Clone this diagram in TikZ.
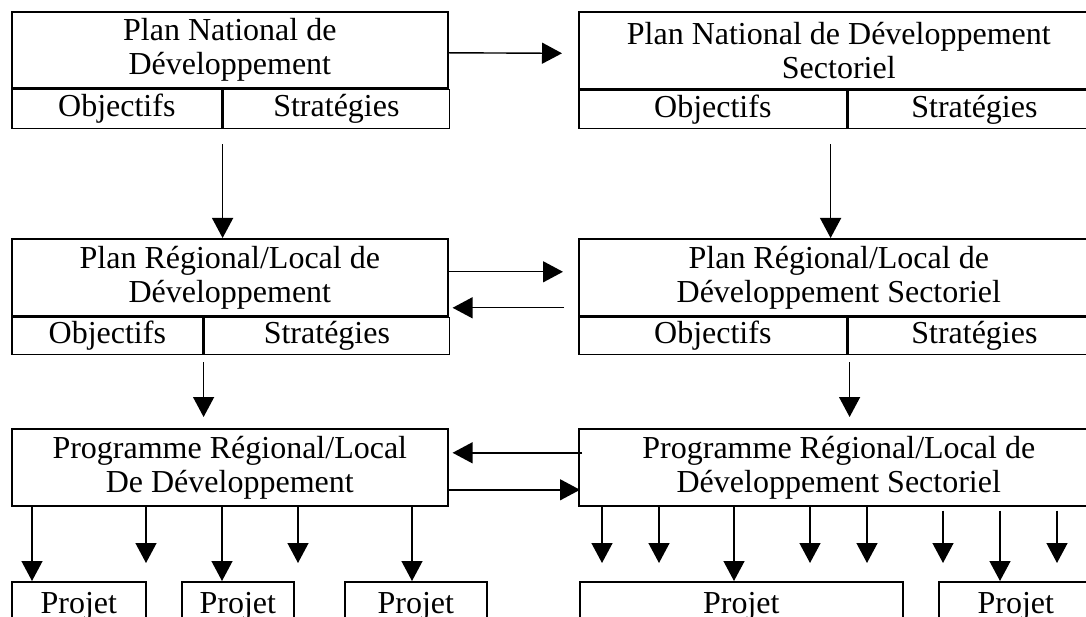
\documentclass[tikz,border=0pt]{standalone}
\usepackage{fontspec}
\setmainfont{Liberation Serif}
\usetikzlibrary{arrows.meta}

\tikzset{
  box/.style={draw,line width=1.6pt,inner sep=0pt,align=center,anchor=north west},
  proj/.style={box,minimum height=50pt},
  arr/.style={line width=1.4pt,-{Triangle[width=21pt,length=20pt]}}
}

\begin{document}
\begin{tikzpicture}[x=1pt,y=-1pt,font=\fontsize{32}{34}\selectfont]

\useasboundingbox (0,0) rectangle (1086,617);
\fill[white] (0,0) rectangle (1086,617);
\clip (0,0) rectangle (1086,617);

% national plans
\node[box,minimum width=436pt,minimum height=76pt] (pnd) at (11,11) {Plan National de\\Développement};
\node[box,minimum width=210pt,minimum height=39pt] (pnd-obj) at (pnd.south west) {Objectifs};
\node[box,minimum width=226pt,minimum height=39pt] (pnd-str) at (pnd-obj.north east) {Stratégies};

\node[box,minimum width=520pt,minimum height=77pt] (pnds) at (578,11) {Plan National de Développement\\Sectoriel};
\node[box,minimum width=268pt,minimum height=38pt] (pnds-obj) at (pnds.south west) {Objectifs};
\node[box,minimum width=252pt,minimum height=38pt] (pnds-str) at (pnds-obj.north east) {Stratégies};

% regional / local plans
\node[box,minimum width=436pt,minimum height=77pt] (prl) at (11,238) {Plan Régional/Local de\\Développement};
\node[box,minimum width=191pt,minimum height=37pt] (prl-obj) at (prl.south west) {Objectifs};
\node[box,minimum width=245pt,minimum height=37pt] (prl-str) at (prl-obj.north east) {Stratégies};

\node[box,minimum width=520pt,minimum height=77pt] (prls) at (578,238) {Plan Régional/Local de\\Développement Sectoriel};
\node[box,minimum width=268pt,minimum height=37pt] (prls-obj) at (prls.south west) {Objectifs};
\node[box,minimum width=252pt,minimum height=37pt] (prls-str) at (prls-obj.north east) {Stratégies};

% programmes
\node[box,minimum width=436pt,minimum height=77pt] (prg) at (11,428) {Programme Régional/Local\\De Développement};
\node[box,minimum width=520pt,minimum height=77pt] (prgs) at (578,428) {Programme Régional/Local de\\Développement Sectoriel};

% projects
\node[proj,minimum width=134pt] (pj1) at (11,581) {Projet};
\node[proj,minimum width=112pt] (pj2) at (181,581) {Projet};
\node[proj,minimum width=142pt] (pj3) at (344,581) {Projet};
\node[proj,minimum width=323pt] (pj4) at (579,581) {Projet};
\node[proj,minimum width=154pt] (pj5) at (938,581) {Projet};

% horizontal links
\draw[arr] ([yshift=-3pt]pnd.east) -- ([xshift=-16pt,yshift=-3pt]pnds.west);
\draw[arr] ([yshift=5.5pt]prl.east) -- ([xshift=-15pt,yshift=5.5pt]prls.west);
\draw[arr] ([xshift=-14pt,yshift=-30.5pt]prls.west) -- ([xshift=4pt,yshift=-30.5pt]prl.east);
\draw[arr] ([xshift=4pt,yshift=14.5pt]prgs.west) -- ([xshift=4pt,yshift=14.5pt]prg.east);
\draw[arr] ([yshift=-22.5pt]prg.east) -- ([xshift=2pt,yshift=-22.5pt]prgs.west);

% downward links
\coordinate (pnds-out) at ([xshift=-17pt]pnds-obj.south east);
\coordinate (prls-out) at ([xshift=2pt]prls-obj.south east);
\draw[arr,shorten <=15pt] (pnd-obj.south east) -- (pnd-obj.south east |- prl.north);
\draw[arr,shorten <=15pt] (pnds-out) -- (pnds-out |- prls.north);
\draw[arr,shorten <=7pt,shorten >=11pt] (prl-obj.south east) -- (prl-obj.south east |- prg.north);
\draw[arr,shorten <=7pt,shorten >=11pt] (prls-out) -- (prls-out |- prgs.north);

% arrows to the projects
\coordinate (tips) at (0,563);
\foreach \dx in {135,287}{
  \coordinate (s) at ([xshift=\dx pt]prg.south west);
  \draw[arr] (s) -- (s |- tips);}
\foreach \dx in {24,81,232,289}{
  \coordinate (s) at ([xshift=\dx pt]prgs.south west);
  \draw[arr] (s) -- (s |- tips);}
\foreach \dx in {365,479}{
  \coordinate (s) at ([xshift=\dx pt]prgs.south west);
  \draw[arr,shorten <=4pt] (s) -- (s |- tips);}

\foreach \p/\dx in {pj1/21,pj2/41,pj3/68}{
  \coordinate (\p-in) at ([xshift=\dx pt]\p.north west);
  \draw[arr] (\p-in |- prg.south) -- (\p-in);}
\coordinate (pj4-in) at ([xshift=155pt]pj4.north west);
\coordinate (pj5-in) at ([xshift=62pt]pj5.north west);
\draw[arr] (pj4-in |- prgs.south) -- (pj4-in);
\draw[arr,shorten <=4pt] (pj5-in |- prgs.south) -- (pj5-in);

\end{tikzpicture}
\end{document}
